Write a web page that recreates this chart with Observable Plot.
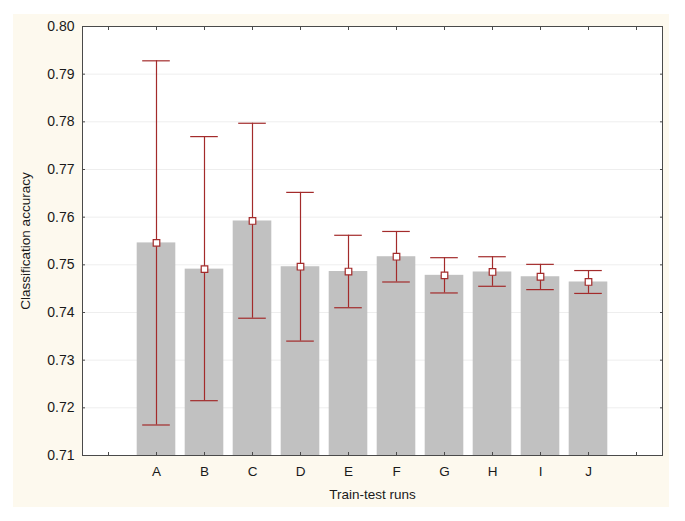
<!DOCTYPE html>
<html>
<head>
<meta charset="utf-8">
<script src="https://cdn.jsdelivr.net/npm/d3@7"></script>
<script src="https://cdn.jsdelivr.net/npm/@observablehq/plot@0.6"></script>
<style>
  html, body { margin: 0; padding: 0; background: #ffffff; }
  #wrap { position: relative; width: 685px; height: 521px; background: #ffffff; overflow: hidden; }
  #panel { position: absolute; left: 13px; top: 14px; width: 656px; height: 493px; background: #fdf9ee; }
  #chart { position: absolute; left: 0; top: 0; }
</style>
</head>
<body>
<div id="wrap"><div id="panel"></div><div id="chart"></div></div>
<script>
const categories = ["A", "B", "C", "D", "E", "F", "G", "H", "I", "J"];
const means  = [0.7546, 0.7491, 0.7592, 0.7496, 0.7486, 0.7517, 0.7478, 0.7485, 0.7475, 0.7464];
const upper  = [0.7928, 0.7769, 0.7797, 0.7652, 0.7562, 0.7570, 0.7515, 0.7517, 0.7501, 0.7488];
const lower  = [0.7164, 0.7215, 0.7388, 0.7340, 0.7410, 0.7464, 0.7441, 0.7455, 0.7448, 0.7440];
const yTicks = [0.71, 0.72, 0.73, 0.74, 0.75, 0.76, 0.77, 0.78, 0.79, 0.80];
const xSlots = ["", ...categories, " "];

const data = categories.map((c, i) => ({cat: c, mean: means[i], upper: upper[i], lower: lower[i]}));

const red = "#a32b2b";
const frameColor = "#4a4a4a";
const catFormat = d => categories.includes(d) ? d : "";

const chart = Plot.plot({
  width: 685,
  height: 521,
  marginLeft: 82,
  marginRight: 23,
  marginTop: 26,
  marginBottom: 66,
  style: "background: transparent; font-family: 'Liberation Sans', Arial, sans-serif; font-size: 13px; color: #1a1a1a;",
  x: {type: "band", domain: xSlots, padding: 0},
  y: {domain: [0.71, 0.80]},
  marks: [
    Plot.frame({fill: "white", stroke: null}),
    Plot.gridY(yTicks, {stroke: "#eeeeee", strokeOpacity: 1}),
    Plot.barY(data, {x: "cat", y1: 0.71, y2: "mean", fill: "#c1c1c1", insetLeft: 4.7, insetRight: 4.7}),
    Plot.ruleX(data, {x: "cat", y1: "lower", y2: "upper", stroke: red, strokeWidth: 1.2}),
    Plot.tickY(data, {x: "cat", y: "upper", stroke: red, strokeWidth: 1.2, inset: 10.2}),
    Plot.tickY(data, {x: "cat", y: "lower", stroke: red, strokeWidth: 1.2, inset: 10.2}),
    Plot.dot(data, {x: "cat", y: "mean", symbol: "square", r: 3.7, fill: "white", stroke: red, strokeWidth: 1.2}),
    Plot.axisY(yTicks, {anchor: "left", tickSize: 0, tickPadding: 8, tickFormat: d3.format(".2f"), fontSize: 14,
      label: null}),
    Plot.axisY(yTicks, {anchor: "left", tickSize: 0, tickFormat: () => "", fontSize: 13.5,
      label: "Classification accuracy", labelAnchor: "center", labelOffset: 62, labelArrow: "none"}),
    Plot.axisY(yTicks, {anchor: "left", tickSize: 3, dx: 3, tickFormat: () => "", label: null, stroke: frameColor}),
    Plot.axisY(yTicks, {anchor: "right", tickSize: 3, dx: -3, tickFormat: () => "", label: null, stroke: frameColor}),
    Plot.axisX(xSlots, {anchor: "bottom", tickSize: 0, tickPadding: 11, tickFormat: catFormat, fontSize: 13.5,
      label: null}),
    Plot.axisX(xSlots, {anchor: "bottom", tickSize: 0, tickFormat: () => "", fontSize: 13.5,
      label: "Train-test runs", labelAnchor: "center", labelOffset: 43, labelArrow: "none"}),
    Plot.axisX(xSlots, {anchor: "bottom", tickSize: 3, dy: -3, tickFormat: () => "", label: null, stroke: frameColor}),
    Plot.axisX(xSlots, {anchor: "top", tickSize: 3, dy: 3, tickFormat: () => "", label: null, stroke: frameColor}),
    Plot.frame({stroke: frameColor, strokeWidth: 1})
  ]
});
document.getElementById("chart").appendChild(chart);
</script>
</body>
</html>
